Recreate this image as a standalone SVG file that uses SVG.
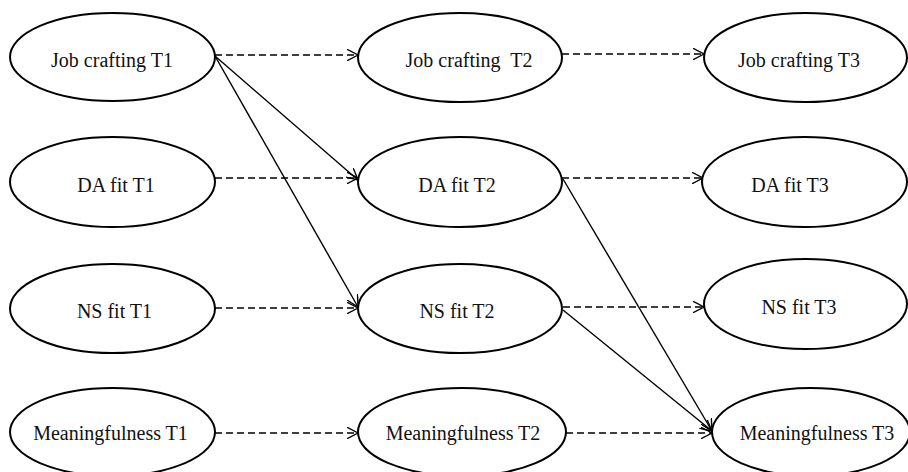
<svg xmlns="http://www.w3.org/2000/svg" width="908" height="472" viewBox="0 0 908 472">
<defs>
<style>
.n ellipse{fill:#fff;stroke:#000;stroke-width:2}
.n text{font-family:'Liberation Serif','DejaVu Serif',serif;font-size:20px;fill:#111;text-anchor:middle}
.d{stroke:#000;stroke-width:1.4;fill:none;stroke-dasharray:7 4;marker-end:url(#ah)}
.s{stroke:#000;stroke-width:1.4;fill:none;marker-end:url(#ah)}
</style>
<marker id="ah" viewBox="0 0 12 12" refX="11.5" refY="6" markerWidth="12" markerHeight="12" markerUnits="userSpaceOnUse" orient="auto">
<path d="M0,0 L11.5,6 L0,12" fill="none" stroke="#000" stroke-width="1.4"/>
</marker>
</defs>
<rect width="908" height="472" fill="#fff"/>
<g id="connectors">
<line class="d" x1="215" y1="55" x2="358" y2="55"/>
<line class="d" x1="215" y1="178" x2="358" y2="178"/>
<line class="d" x1="215" y1="308" x2="358" y2="308"/>
<line class="d" x1="215" y1="433" x2="358" y2="433"/>
<line class="d" x1="562" y1="54" x2="704" y2="54"/>
<line class="d" x1="562" y1="178" x2="703" y2="178"/>
<line class="d" x1="563" y1="307" x2="704" y2="307"/>
<line class="d" x1="566" y1="433" x2="712" y2="433"/>
<line class="s" x1="215" y1="56" x2="358" y2="180"/>
<line class="s" x1="215" y1="56" x2="358" y2="307"/>
<line class="s" x1="563" y1="179" x2="712" y2="431"/>
<line class="s" x1="563" y1="310" x2="712" y2="431"/>
</g>
<g id="jc1" class="n"><ellipse cx="112.5" cy="57" rx="102.5" ry="44"/><text x="112" y="67" font-family="Liberation Serif, serif">Job crafting T1</text></g>
<g id="da1" class="n"><ellipse cx="112.5" cy="182" rx="102.5" ry="45"/><text x="116" y="192">DA fit T1</text></g>
<g id="ns1" class="n"><ellipse cx="112.5" cy="308.5" rx="102.5" ry="44.5"/><text x="114.5" y="318">NS fit T1</text></g>
<g id="mf1" class="n"><ellipse cx="112.5" cy="432" rx="102.5" ry="44"/><text x="110.5" y="440">Meaningfulness T1</text></g>
<g id="jc2" class="n"><ellipse cx="460" cy="57.5" rx="102" ry="44.5"/><text x="469" y="67" xml:space="preserve">Job crafting  T2</text></g>
<g id="da2" class="n"><ellipse cx="460" cy="182" rx="102" ry="45"/><text x="457" y="192">DA fit T2</text></g>
<g id="ns2" class="n"><ellipse cx="460" cy="308.5" rx="102" ry="44.5"/><text x="457" y="318">NS fit T2</text></g>
<g id="mf2" class="n"><ellipse cx="462" cy="432" rx="104" ry="44"/><text x="463" y="440">Meaningfulness T2</text></g>
<g id="jc3" class="n"><ellipse cx="805.5" cy="57.5" rx="101.5" ry="44.5"/><text x="799" y="67">Job crafting T3</text></g>
<g id="da3" class="n"><ellipse cx="804.5" cy="182" rx="102.5" ry="45"/><text x="790" y="192">DA fit T3</text></g>
<g id="ns3" class="n"><ellipse cx="805.5" cy="304" rx="101.5" ry="45"/><text x="799" y="314">NS fit T3</text></g>
<g id="mf3" class="n"><ellipse cx="811" cy="432" rx="99" ry="44"/><text x="817" y="440">Meaningfulness T3</text></g>
</svg>
